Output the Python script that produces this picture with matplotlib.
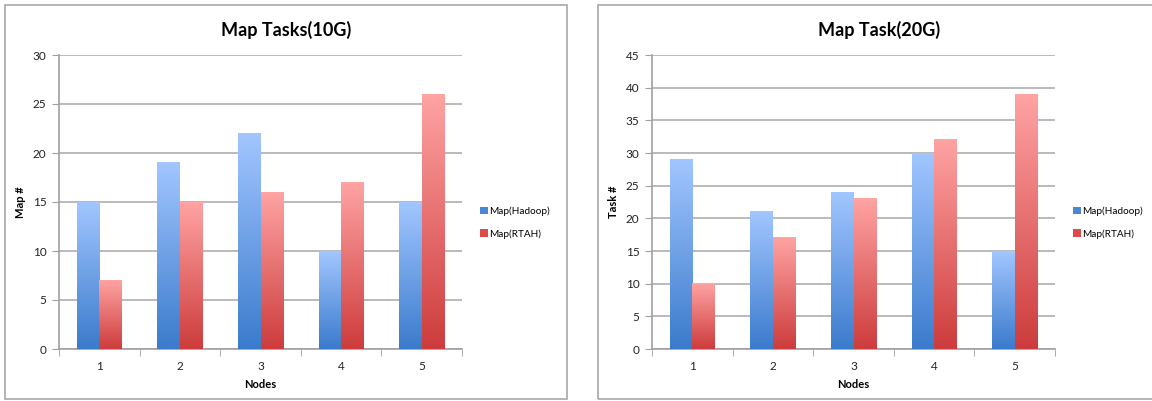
import numpy as np
import matplotlib
matplotlib.use("Agg")
import matplotlib.pyplot as plt
from matplotlib.patches import Rectangle, Patch
from matplotlib.colors import LinearSegmentedColormap

nodes = [1, 2, 3, 4, 5]
hadoop_10g = [15, 19, 22, 10, 15]
rtah_10g = [7, 15, 16, 17, 26]
hadoop_20g = [29, 21, 24, 30, 15]
rtah_20g = [10, 17, 23, 32, 39]

series_names = ["Map(Hadoop)", "Map(RTAH)"]

plt.rcParams["font.family"] = ["Lato", "DejaVu Sans"]

blue_cmap = LinearSegmentedColormap.from_list("blue_grad", ["#3b7bcc", "#a2c6ff"])
red_cmap = LinearSegmentedColormap.from_list("red_grad", ["#cd3c3c", "#ffa3a3"])
grad = np.linspace(0, 1, 256).reshape(-1, 1)

W, H = 1152, 401
fig = plt.figure(figsize=(W / 100, H / 100), dpi=100)

# panel frames
for x0, x1 in [(5, 567), (598, 1160)]:
    fig.patches.append(Rectangle((x0 / W, 1 - 399 / H), (x1 - x0) / W, 394 / H,
                                 transform=fig.transFigure, fill=False,
                                 edgecolor="#a8a8a8", linewidth=1.2))


def gradient_bar(ax, x, w, h, cmap):
    ax.imshow(grad, cmap=cmap, origin="lower", aspect="auto",
              extent=[x - w / 2, x + w / 2, 0, h], zorder=3, interpolation="bilinear")


def draw_panel(left_px, title, ylabel, ymax, hadoop, rtah, cx):
    ax_w = 403
    ax = fig.add_axes([left_px / W, 52 / H, ax_w / W, 294 / H])
    w = 0.28
    for n, a, b in zip(nodes, hadoop, rtah):
        gradient_bar(ax, n - w / 2, w, a, blue_cmap)
        gradient_bar(ax, n + w / 2, w, b, red_cmap)
    ax.set_xlim(0.5, 5.5)
    ax.set_ylim(0, ymax)
    ax.set_yticks(np.arange(0, ymax + 1, 5))
    ax.set_xticks(nodes)
    ax.set_xticks(np.arange(0.5, 6, 1), minor=True)
    ax.tick_params(axis="x", which="major", length=0, pad=9, labelsize=8.5, colors="#222222")
    ax.tick_params(axis="x", which="minor", length=5, color="#a0a0a0")
    ax.tick_params(axis="y", length=5, color="#a0a0a0", labelsize=8.5,
                   labelcolor="#222222", pad=4)
    ax.grid(axis="y", color="#b4b4b4", linewidth=1.3, zorder=0)
    ax.set_axisbelow(True)
    for s in ["top", "right"]:
        ax.spines[s].set_visible(False)
    for s in ["left", "bottom"]:
        ax.spines[s].set_color("#a0a0a0")
        ax.spines[s].set_linewidth(1.2)
    ax.set_xlabel("Nodes", fontsize=8, fontweight="bold", labelpad=5)
    ax.set_ylabel(ylabel, fontsize=8, fontweight="bold", labelpad=5)
    fig.text(cx / W, 1 - 30 / H, title, ha="center", va="center",
             fontsize=13, fontweight="bold")
    handles = [Patch(facecolor="#4a86d6", edgecolor="none"),
               Patch(facecolor="#d84c4c", edgecolor="none")]
    ax.legend(handles, series_names, loc="center left",
              bbox_to_anchor=(421 / ax_w, 0.43),
              frameon=False, fontsize=7.2, handlelength=0.75, handleheight=0.75,
              handletextpad=0.2, labelspacing=1.3, borderaxespad=0, borderpad=0)
    return ax


draw_panel(59, "Map Tasks(10G)", "Map #", 30, hadoop_10g, rtah_10g, 286)
draw_panel(652, "Map Task(20G)", "Task #", 45, hadoop_20g, rtah_20g, 879)

fig.savefig("out.png", dpi=100)
